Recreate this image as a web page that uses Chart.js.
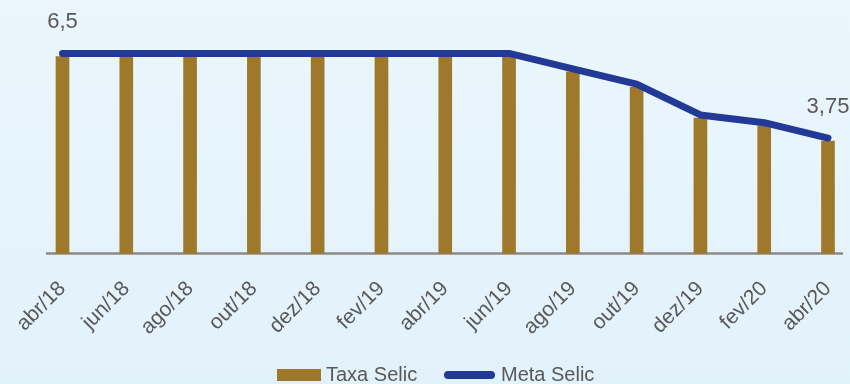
<!DOCTYPE html>
<html>
<head>
<meta charset="utf-8">
<script src="https://cdn.jsdelivr.net/npm/chart.js@4.4.1/dist/chart.umd.min.js"></script>
<style>
    html, body {
        margin: 0;
        padding: 0;
        width: 850px;
        height: 384px;
        overflow: hidden;
        background: linear-gradient(to bottom, #eaf6fc 0%, #e2f2fb 100%);
        font-family: "Liberation Sans", Arial, sans-serif;
    }
    #wrap { position: relative; width: 850px; height: 384px; }
    canvas { position: absolute; left: 0; top: 0; }
    .legend-item { position: absolute; font-size: 20px; line-height: 20px; color: #595959; white-space: nowrap; }
    .swatch { position: absolute; }
</style>
</head>
<body>
<div id="wrap">
    <canvas id="chart" width="850" height="384"></canvas>
    <div class="swatch" style="left:277px; top:369px; width:44px; height:12px; background:#9e792b;"></div>
    <span class="legend-item" style="left:326px; top:364px;">Taxa Selic</span>
    <div class="swatch" style="left:444px; top:371px; width:51px; height:8px; border-radius:4px; background:#233996;"></div>
    <span class="legend-item" style="left:501px; top:364px;">Meta Selic</span>
</div>
<script>
const categories = ["abr/18", "jun/18", "ago/18", "out/18", "dez/18", "fev/19", "abr/19",
    "jun/19", "ago/19", "out/19", "dez/19", "fev/20", "abr/20"];
const taxaSelic = [6.4, 6.4, 6.4, 6.4, 6.4, 6.4, 6.4, 6.4, 5.9, 5.4, 4.4, 4.15, 3.65];
const metaSelic = [6.5, 6.5, 6.5, 6.5, 6.5, 6.5, 6.5, 6.5, 6.0, 5.5, 4.5, 4.25, 3.75];
const labelledPoints = [0, 12];

const COLORS = {
    bar: "#9e792b",
    line: "#233996",
    axis: "#8a8a8a",
    text: "#595959",
};

const axisLinePlugin = {
    id: "axisLine",
    beforeDatasetsDraw(chart) {
        const { ctx, chartArea } = chart;
        ctx.save();
        ctx.strokeStyle = COLORS.axis;
        ctx.lineWidth = 2.5;
        ctx.beginPath();
        ctx.moveTo(chartArea.left - 16.5, chartArea.bottom);
        ctx.lineTo(chartArea.right + 15, chartArea.bottom);
        ctx.stroke();
        ctx.restore();
    },
};

const pointLabelsPlugin = {
    id: "pointLabels",
    afterDatasetsDraw(chart) {
        const { ctx } = chart;
        const meta = chart.getDatasetMeta(1);
        ctx.save();
        ctx.font = '22px "Liberation Sans", Arial, sans-serif';
        ctx.fillStyle = COLORS.text;
        ctx.textAlign = "center";
        ctx.textBaseline = "middle";
        labelledPoints.forEach((index) => {
            const point = meta.data[index];
            const text = String(metaSelic[index]).replace(".", ",");
            ctx.fillText(text, point.x, point.y - 31);
        });
        ctx.restore();
    },
};

new Chart(document.getElementById("chart").getContext("2d"), {
    type: "bar",
    data: {
        labels: categories,
        datasets: [
            {
                type: "bar",
                label: "Taxa Selic",
                data: taxaSelic,
                backgroundColor: COLORS.bar,
                barThickness: 13,
                order: 1,
                clip: false,
            },
            {
                type: "line",
                label: "Meta Selic",
                data: metaSelic,
                borderColor: COLORS.line,
                borderWidth: 7,
                borderCapStyle: "round",
                borderJoinStyle: "round",
                pointRadius: 0,
                tension: 0,
                order: 0,
                clip: false,
            },
        ],
    },
    options: {
        responsive: false,
        animation: false,
        layout: {
            padding: { left: 62.5, right: 22, top: 38, bottom: 0 },
        },
        plugins: {
            legend: { display: false },
            tooltip: { enabled: false },
        },
        scales: {
            x: {
                offset: false,
                grid: { display: false, drawTicks: false },
                border: { display: false },
                ticks: {
                    color: COLORS.text,
                    font: { family: '"Liberation Sans", Arial, sans-serif', size: 21 },
                    minRotation: 45,
                    maxRotation: 45,
                    padding: 23,
                    autoSkip: false,
                },
                afterFit(scale) {
                    scale.paddingLeft = 0;
                    scale.paddingRight = 0;
                    scale.height = 130.5;
                },
            },
            y: {
                display: false,
                min: 0,
                max: 7,
            },
        },
    },
    plugins: [axisLinePlugin, pointLabelsPlugin],
});
</script>
</body>
</html>
